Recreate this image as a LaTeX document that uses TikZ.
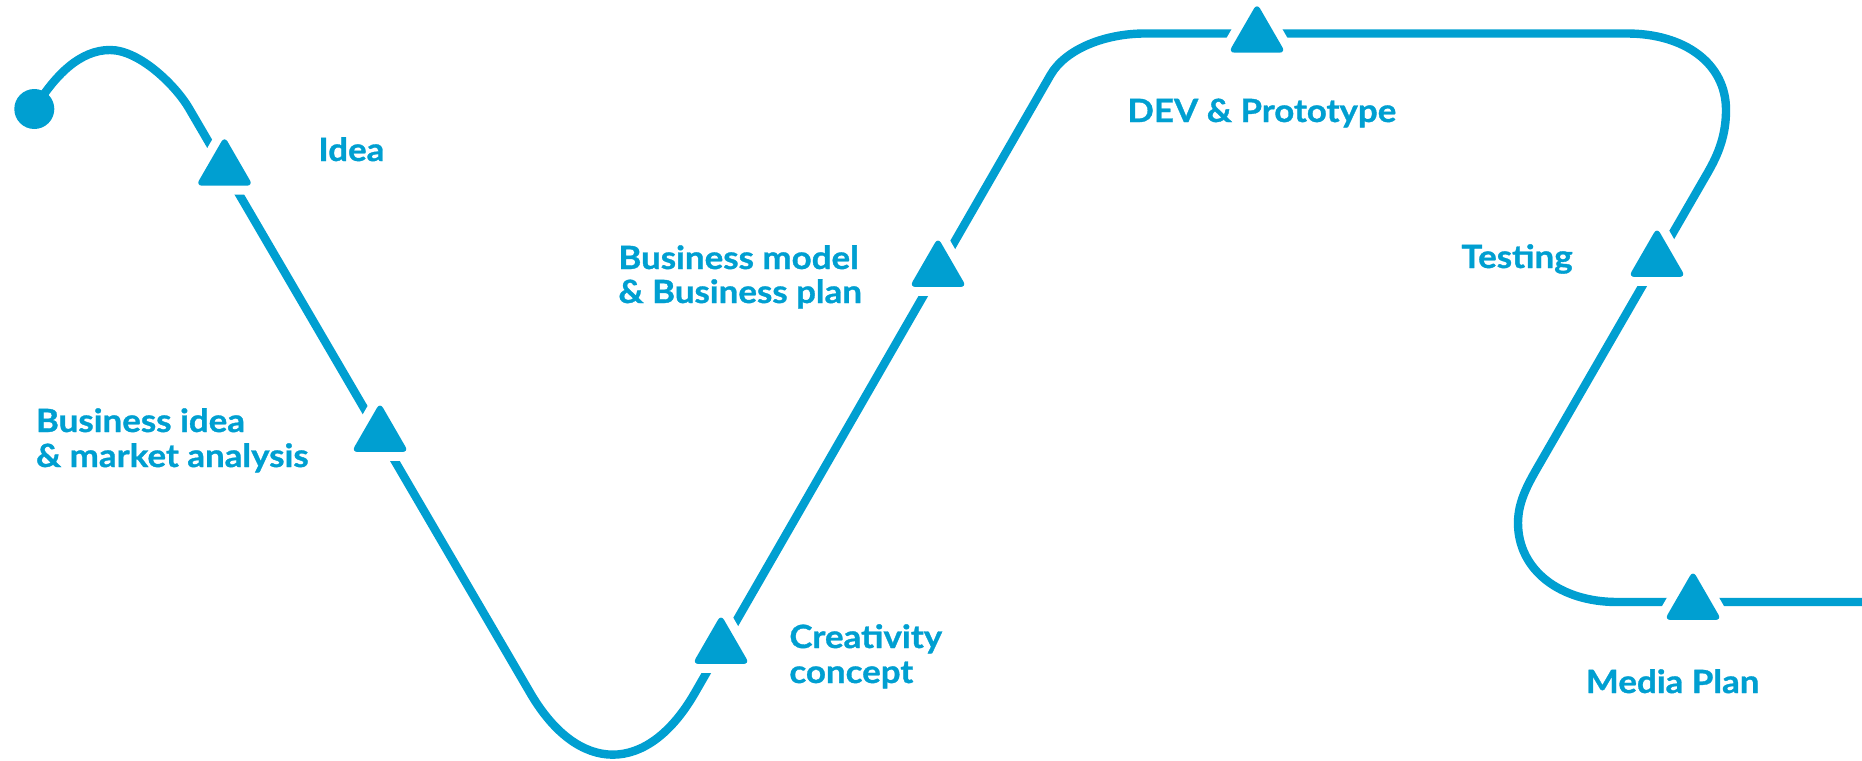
\documentclass[tikz,border=0pt]{standalone}
\usepackage{fontspec}
\setmainfont{Lato}[FakeStretch=1.09, BoldFeatures={FakeBold=1}]
\usetikzlibrary{shapes.geometric}
\definecolor{brand}{RGB}{0,159,209}
\tikzset{
  route/.style={draw=brand, line width=4.2pt, line cap=butt},
  marker/.style={regular polygon, regular polygon sides=3, minimum size=32.9pt,
    inner sep=0pt, outer sep=0pt, fill=brand, rounded corners=3pt,
    preaction={draw=white, line width=9pt}},
  startdot/.style={circle, fill=brand, minimum size=20pt, inner sep=0pt},
  lbl/.style={anchor=base west, inner sep=0pt, text=brand,
    font=\fontsize{16}{17.5}\selectfont\bfseries},
}
\begin{document}
\begin{tikzpicture}[x=0.5pt,y=-0.5pt]
\useasboundingbox (0,0) rectangle (1862,760);
% route
\draw[route] (34.3,109) .. controls (55,75) and (80,50) .. (110,50)
  .. controls (140,50) and (176.2,86.4) .. (188.8,108)
  -- (530.3,693)
  .. controls (578.2,775.1) and (647.4,775.3) .. (694.8,693)
  -- (1050.5,75)
  .. controls (1065.5,49) and (1105,33.5) .. (1145,33.5)
  -- (1627,33.5)
  .. controls (1684,33.5) and (1726,63) .. (1726,110)
  .. controls (1726,135) and (1718.5,154) .. (1707.5,173)
  -- (1541.8,460)
  .. controls (1529.3,481.7) and (1518,500) .. (1518,523)
  .. controls (1518,570) and (1560,602) .. (1617,602)
  -- (1862,602);
% markers
\node[marker] (m1) at (224.5,169.2) {};
\node[marker] (m2) at (380,435.5) {};
\node[marker] (m3) at (721,647.5) {};
\node[marker] (m4) at (938,270.5) {};
\node[marker] (m5) at (1257,36.2) {};
\node[marker] (m6) at (1657,260.5) {};
\node[marker] (m7) at (1693,603.5) {};
\node[startdot] (start) at (34.3,109) {};
% labels
\node[lbl] (t1) at (318,161) {Idea};
\node[lbl] (t2a) at (35.6,432) {Business idea};
\node[lbl] (t2b) at (35.6,467) {\& market analysis};
\node[lbl] (t3a) at (789,648) {Creativity};
\node[lbl] (t3b) at (789,683) {concept};
\node[lbl] (t4a) at (618,269) {Business model};
\node[lbl] (t4b) at (618,303) {\& Business plan};
\node[lbl] (t5) at (1127,122) {DEV \& Prototype};
\node[lbl] (t6) at (1461,268) {Testing};
\node[lbl] (t7) at (1585.5,693) {Media Plan};
\end{tikzpicture}
\end{document}
